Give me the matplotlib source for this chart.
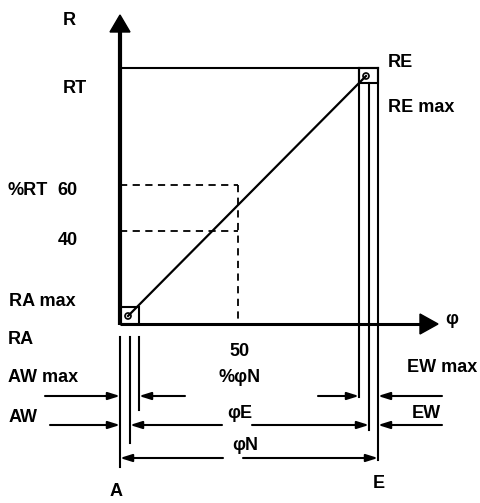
import matplotlib
matplotlib.use("Agg")
import matplotlib.pyplot as plt
from matplotlib.patches import Rectangle, Circle

# ---- positions along the phi axis (diagram units) ----
phi_A = 0
phi_AW = 10
phi_AWmax = 19
phi_50 = 118
phi_EWmax = 239
phi_EW = 249
phi_E = 258
phi_axis_end = 318

# ---- positions along the R axis (diagram units) ----
R_RA = 0
R_RAmax = 17
R_40 = 93
R_60 = 139
R_REmax = 241
R_RT = 256
R_axis_end = 309

# ---- characteristic line (from RA point to RE point) ----
char_phi = [8, 246]
char_R = [8, 248]

# ---- dimension rows below the phi axis ----
row_AWmax = -72
row_AW = -101
row_phiN = -134
ext_top = -13

FONT = ["Liberation Sans", "DejaVu Sans"]
FS = 13

fig = plt.figure(figsize=(4.81, 5.03), dpi=100)
ax = fig.add_axes([0, 0, 1, 1])
ax.set_xlim(-120, 361)
ax.set_ylim(-179, 324)
ax.axis("off")

K = "black"

# axes
ax.plot([phi_A, phi_A], [R_RA - 1, R_axis_end - 16], color=K, lw=3.0, solid_capstyle="butt")
ax.fill([phi_A - 10, phi_A + 10, phi_A], [R_axis_end - 17, R_axis_end - 17, R_axis_end], color=K)
ax.plot([phi_A, phi_axis_end - 17], [R_RA, R_RA], color=K, lw=2.2, solid_capstyle="butt")
ax.fill([phi_axis_end - 18, phi_axis_end - 18, phi_axis_end], [R_RA - 10, R_RA + 10, R_RA], color=K)

# RT line
ax.plot([phi_A, phi_E], [R_RT, R_RT], color=K, lw=1.5)

# dashed guide lines
ax.plot([phi_A, phi_50], [R_60, R_60], color=K, lw=1.3, ls=(0, (4, 3)))
ax.plot([phi_A, phi_50], [R_40, R_40], color=K, lw=1.3, ls=(0, (4, 3)))
ax.plot([phi_50, phi_50], [R_60, R_RA], color=K, lw=1.3, ls=(0, (4, 3)))

# characteristic line
ax.plot(char_phi, char_R, color=K, lw=1.6)

# squares and small circles at the end points
ax.add_patch(Rectangle((phi_A, R_RA), phi_AWmax - phi_A, R_RAmax - R_RA,
                       fill=False, ec=K, lw=1.5))
ax.add_patch(Rectangle((phi_EWmax, R_REmax), phi_E - phi_EWmax, R_RT - R_REmax,
                       fill=False, ec=K, lw=1.5))
ax.add_patch(Circle((char_phi[0], char_R[0]), 3, fill=False, ec=K, lw=1.2))
ax.add_patch(Circle((char_phi[1], char_R[1]), 3, fill=False, ec=K, lw=1.2))

# extension lines (E side)
ax.plot([phi_EWmax, phi_EWmax], [R_RT, row_AWmax - 1], color=K, lw=1.5)
ax.plot([phi_EW, phi_EW], [R_REmax, row_AW - 5], color=K, lw=1.5)
ax.plot([phi_E, phi_E], [R_RT, row_phiN - 2], color=K, lw=1.5)

# extension lines (A side)
ax.plot([phi_A, phi_A], [ext_top, row_phiN - 9], color=K, lw=1.5)
ax.plot([phi_AW, phi_AW], [ext_top, row_AW - 18], color=K, lw=1.5)
ax.plot([phi_AWmax, phi_AWmax], [ext_top, row_AWmax - 14], color=K, lw=1.5)

AP = dict(arrowstyle="-|>,head_length=0.7,head_width=0.22", color=K, lw=1.5,
          mutation_scale=10, shrinkA=0, shrinkB=0)


def arrow(x0, x1, y):
    ax.annotate("", xy=(x1, y), xytext=(x0, y), arrowprops=AP)


# AW max / EW max row
arrow(phi_A - 75, phi_A, row_AWmax)
arrow(phi_AWmax + 46, phi_AWmax, row_AWmax)
arrow(phi_EWmax - 41, phi_EWmax, row_AWmax)
arrow(phi_E + 64, phi_E, row_AWmax)

# AW / phiE / EW row
arrow(phi_A - 70, phi_A, row_AW)
arrow(phi_50 - 16, phi_AW, row_AW)
arrow(phi_50 + 14, phi_EW, row_AW)
arrow(phi_E + 64, phi_E, row_AW)

# phiN row
arrow(phi_50 - 15, phi_A, row_phiN)
arrow(phi_50 + 5, phi_E, row_phiN)


def label(x, y, s, ha="left"):
    ax.text(x, y, s, ha=ha, va="center", fontsize=FS, fontweight="bold",
            family=FONT, color=K)


# left labels
label(-57, 304, "R")
label(-57, 236, "RT")
label(-112, 134, "%RT")
label(-42, 134, "60", ha="right")
label(-42, 84, "40", ha="right")
label(-111, 22, "RA max")
label(-112, -16, "RA")
label(-112, -53, "AW max")
label(-111, -93, "AW")
label(phi_A - 4, -168, "A", ha="center")

# middle labels
label(phi_50 + 2, -28, "50", ha="center")
label(phi_50 + 2, -53, "%φN", ha="center")
label(phi_50 + 2, -89, "φE", ha="center")
label(phi_50 + 7, -121, "φN", ha="center")

# right labels
label(268, 262, "RE")
label(268, 217, "RE max")
label(287, -44, "EW max")
label(292, -89, "EW")
label(phi_E + 1, -159, "E", ha="center")
label(325, 4, "φ")

fig.savefig("out.png", dpi=100, facecolor="white")
